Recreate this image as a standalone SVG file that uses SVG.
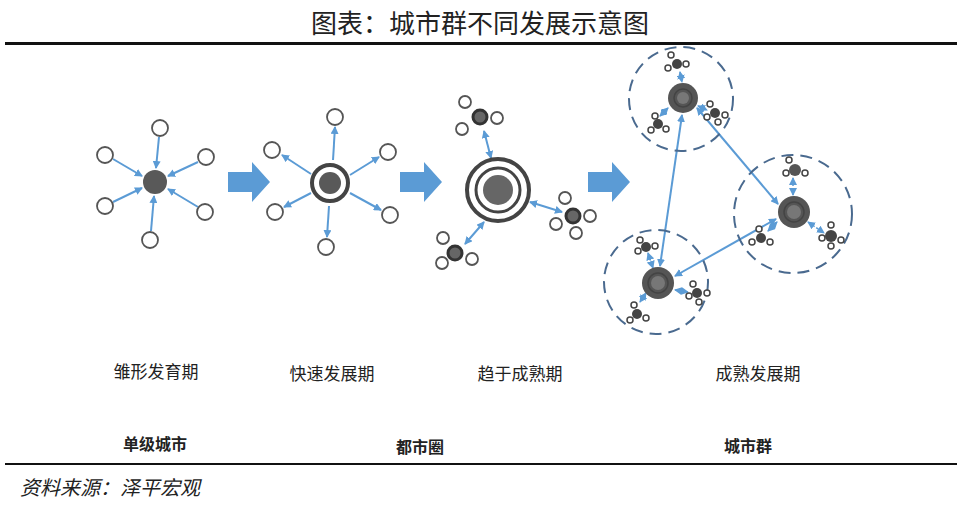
<svg xmlns="http://www.w3.org/2000/svg" width="960" height="505" viewBox="0 0 960 505">
<style>
.t{font-family:"Noto Sans CJK SC","Liberation Serif",serif;fill:#222}
.s{fill:#fff;stroke:#555;stroke-width:1.8}
.ss{fill:#fff;stroke:#444;stroke-width:1.5}
.c{fill:#666;stroke:#444;stroke-width:1.5}
.a{stroke:#5b9bd5;stroke-width:2;fill:none}
.ring{fill:none;stroke:#444}
.dash{fill:none;stroke:#4a6a8f;stroke-width:2;stroke-dasharray:12 7}
</style>
<defs>
<marker id="m" markerWidth="8" markerHeight="8" refX="7" refY="4" orient="auto-start-reverse" markerUnits="userSpaceOnUse"><path d="M0,0L8,4L0,8z" fill="#5b9bd5"/></marker>
<g id="big"><path d="M0,-10h24v-10l18,20l-18,20v-10h-24z" fill="#5b9bd5"/></g>
</defs>
<rect width="960" height="505" fill="#fff"/>
<text class="t" x="480" y="33" font-size="26" text-anchor="middle">图表：城市群不同发展示意图</text>
<rect x="5" y="42" width="952" height="3" fill="#111"/>
<rect x="5" y="463" width="952" height="2" fill="#111"/>
<text x="20" y="495" font-size="20" font-style="italic" style="font-family:'Noto Sans CJK SC',serif" fill="#222">资料来源：泽平宏观</text>

<g id="conn">
<g marker-end="url(#m)" class="a">
<line x1="159" y1="137" x2="156" y2="168"/><line x1="113" y1="159" x2="142" y2="176"/><line x1="198" y1="162" x2="168" y2="176"/>
<line x1="113" y1="202" x2="142" y2="188"/><line x1="198" y1="207" x2="168" y2="189"/><line x1="151" y1="231" x2="154" y2="196"/>
<line x1="333" y1="160" x2="335" y2="127"/><line x1="311" y1="174" x2="282" y2="155"/><line x1="350" y1="175" x2="379" y2="157"/>
<line x1="311" y1="193" x2="284" y2="207"/><line x1="350" y1="193" x2="381" y2="210"/><line x1="329" y1="206" x2="327" y2="237"/>
</g>
<g marker-start="url(#m)" marker-end="url(#m)" class="a">
<line x1="484" y1="131" x2="491" y2="158"/><line x1="530" y1="202" x2="562" y2="212"/><line x1="484" y1="222" x2="465" y2="244"/>
<line x1="682" y1="115" x2="660" y2="266"/><line x1="697" y1="108" x2="778" y2="204"/><line x1="776" y1="219" x2="675" y2="276"/>
</g>
<g marker-start="url(#m)" marker-end="url(#m)" stroke="#5b9bd5" stroke-width="1.5" stroke-dasharray="3 2" fill="none">
<line x1="680" y1="72" x2="682" y2="82"/><line x1="668" y1="108" x2="660" y2="116"/><line x1="698" y1="106" x2="707" y2="110"/>
<line x1="793" y1="178" x2="793" y2="195"/><line x1="777" y1="222" x2="768" y2="231"/><line x1="808" y1="222" x2="824" y2="233"/>
<line x1="648" y1="253" x2="653" y2="268"/><line x1="646" y1="293" x2="640" y2="302"/><line x1="675" y1="290" x2="688" y2="292"/>
</g>
</g>

<g id="arrows"><use href="#big" x="228" y="182"/><use href="#big" x="400" y="182"/><use href="#big" x="588" y="182"/></g>

<g id="stage1">
<circle cx="155" cy="182" r="12" fill="#595959"/>
<circle class="s" cx="160" cy="128" r="8"/><circle class="s" cx="105" cy="155" r="8"/><circle class="s" cx="206" cy="157" r="8"/>
<circle class="s" cx="105" cy="206" r="8"/><circle class="s" cx="205" cy="212" r="8"/><circle class="s" cx="150" cy="240" r="8"/>
</g>
<g id="stage2">
<circle cx="330" cy="183" r="18" class="ring" stroke-width="4"/><circle cx="330" cy="183" r="11" fill="#595959"/>
<circle class="s" cx="335" cy="117" r="8"/><circle class="s" cx="272" cy="150" r="8"/><circle class="s" cx="388" cy="152" r="8"/>
<circle class="s" cx="275" cy="212" r="8"/><circle class="s" cx="390" cy="215" r="8"/><circle class="s" cx="326" cy="247" r="8"/>
</g>
<g id="stage3">
<circle cx="498" cy="190" r="31" class="ring" stroke-width="4"/><circle cx="498" cy="190" r="22" class="ring" stroke-width="3"/><circle cx="498" cy="190" r="15" fill="#666"/>
<circle cx="480" cy="117" r="7" fill="#666" stroke="#333" stroke-width="3"/><circle class="s" cx="465" cy="102" r="6"/><circle class="s" cx="497" cy="118" r="6"/><circle class="s" cx="462" cy="129" r="6"/>
<circle cx="573" cy="216" r="7" fill="#666" stroke="#333" stroke-width="3"/><circle class="s" cx="565" cy="198" r="6"/><circle class="s" cx="590" cy="216" r="6"/><circle class="s" cx="576" cy="233" r="6"/><circle class="s" cx="556" cy="224" r="6"/>
<circle cx="455" cy="253" r="7" fill="#666" stroke="#333" stroke-width="3"/><circle class="s" cx="443" cy="238" r="6"/><circle class="s" cx="472" cy="259" r="6"/><circle class="s" cx="442" cy="263" r="6"/>
</g>
<g id="stage4">
<circle class="dash" cx="681" cy="99" r="52"/><circle class="dash" cx="793" cy="214" r="59"/><circle class="dash" cx="656" cy="282" r="52"/>
<g id="n1"><circle cx="683" cy="98" r="15" fill="#555"/><circle cx="683" cy="98" r="9" class="ring" stroke="#ccc" stroke-width="1.5"/><circle cx="683" cy="98" r="6" fill="#777"/></g>
<g id="n2"><circle cx="794" cy="212" r="16" fill="#555"/><circle cx="794" cy="212" r="10" class="ring" stroke="#ccc" stroke-width="1.5"/><circle cx="794" cy="212" r="7" fill="#777"/></g>
<g id="n3"><circle cx="658" cy="283" r="16" fill="#555"/><circle cx="658" cy="283" r="10" class="ring" stroke="#ccc" stroke-width="1.5"/><circle cx="658" cy="283" r="7" fill="#777"/></g>
<g id="sub">
<circle cx="677" cy="64" r="5" fill="#444"/><circle class="ss" cx="671" cy="55" r="3"/><circle class="ss" cx="686" cy="64" r="3"/><circle class="ss" cx="668" cy="68" r="3"/>
<circle cx="658" cy="124" r="5" fill="#444"/><circle class="ss" cx="655" cy="116" r="3"/><circle class="ss" cx="666" cy="129" r="3"/><circle class="ss" cx="651" cy="130" r="3"/>
<circle cx="715" cy="113" r="5" fill="#444"/><circle class="ss" cx="710" cy="104" r="3"/><circle class="ss" cx="725" cy="115" r="3"/><circle class="ss" cx="707" cy="117" r="3"/><circle class="ss" cx="718" cy="122" r="3"/>
<circle cx="795" cy="170" r="6" fill="#555"/><circle class="ss" cx="789" cy="160" r="3"/><circle class="ss" cx="786" cy="173" r="3"/><circle class="ss" cx="805" cy="173" r="3"/>
<circle cx="761" cy="238" r="5" fill="#444"/><circle class="ss" cx="759" cy="229" r="3"/><circle class="ss" cx="752" cy="242" r="3"/><circle class="ss" cx="770" cy="242" r="3"/>
<circle cx="831" cy="236" r="6" fill="#444"/><circle class="ss" cx="831" cy="225" r="3"/><circle class="ss" cx="822" cy="238" r="3"/><circle class="ss" cx="841" cy="240" r="3"/><circle class="ss" cx="831" cy="246" r="3"/>
<circle cx="646" cy="247" r="5" fill="#444"/><circle class="ss" cx="640" cy="240" r="3"/><circle class="ss" cx="655" cy="246" r="3"/><circle class="ss" cx="638" cy="251" r="3"/>
<circle cx="637" cy="314" r="5" fill="#444"/><circle class="ss" cx="634" cy="305" r="3"/><circle class="ss" cx="646" cy="318" r="3"/><circle class="ss" cx="630" cy="320" r="3"/>
<circle cx="697" cy="293" r="5" fill="#444"/><circle class="ss" cx="693" cy="284" r="3"/><circle class="ss" cx="707" cy="293" r="3"/><circle class="ss" cx="699" cy="302" r="3"/><circle class="ss" cx="689" cy="296" r="3"/>
</g>
</g>

<g id="labels" font-size="17">
<text class="t" x="156" y="378" text-anchor="middle" font-size="17">雏形发育期</text>
<text class="t" x="332" y="380" text-anchor="middle" font-size="17">快速发展期</text>
<text class="t" x="520" y="380" text-anchor="middle" font-size="17">趋于成熟期</text>
<text class="t" x="758" y="380" text-anchor="middle" font-size="17">成熟发展期</text>
<text class="t" x="155" y="450" text-anchor="middle" font-size="16" font-weight="bold">单级城市</text>
<text class="t" x="420" y="453" text-anchor="middle" font-size="16" font-weight="bold">都市圈</text>
<text class="t" x="748" y="452" text-anchor="middle" font-size="16" font-weight="bold">城市群</text>
</g>
</svg>
